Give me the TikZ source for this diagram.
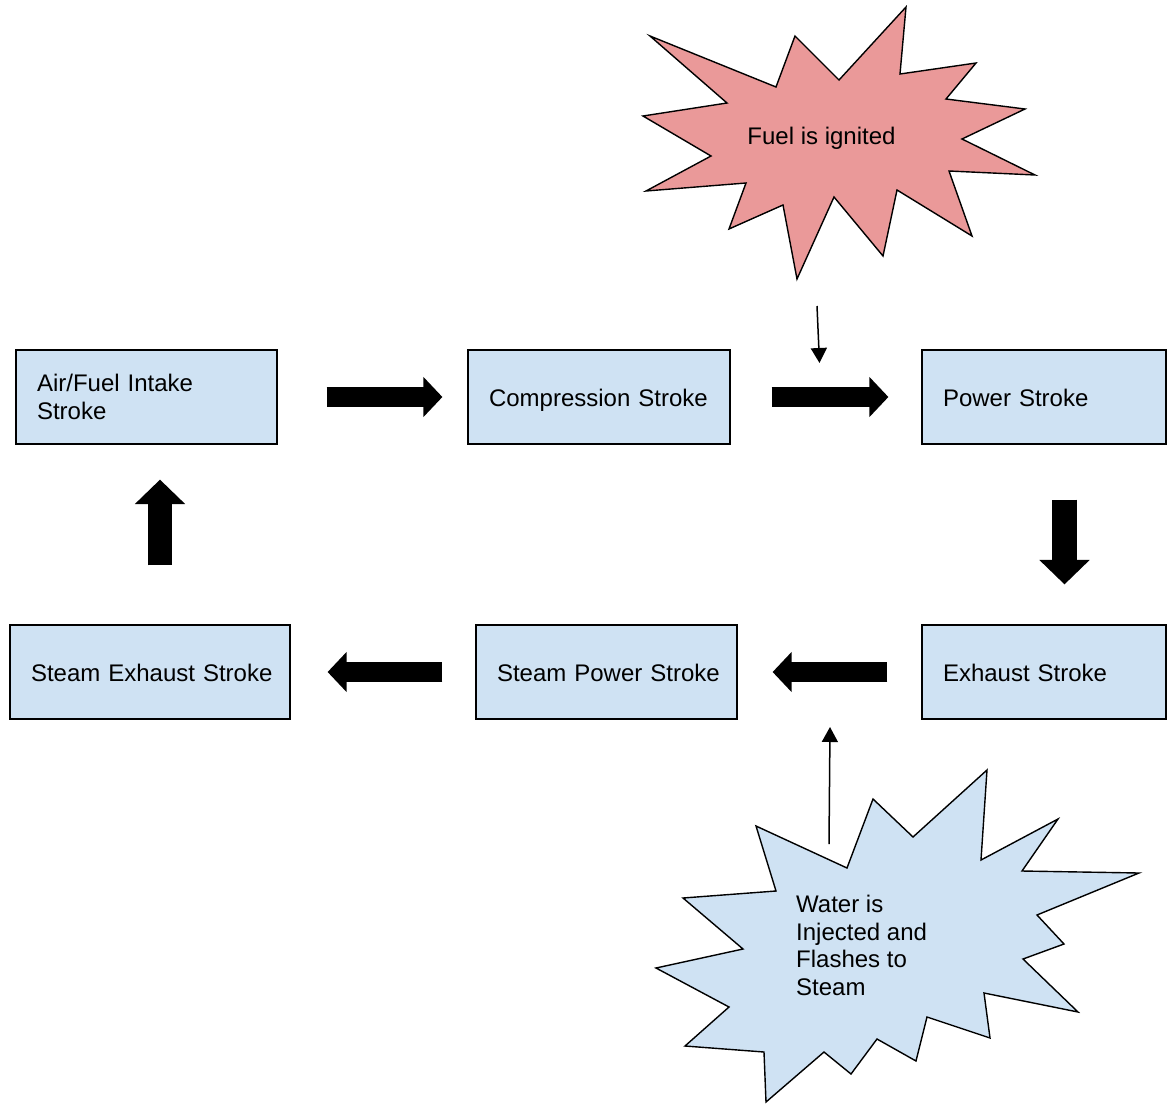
\documentclass[tikz,border=0pt]{standalone}
\usepackage{fontspec}
\setmainfont{Liberation Sans}
\usetikzlibrary{arrows.meta,calc}
\definecolor{boxblue}{HTML}{CFE2F3}
\definecolor{burstred}{HTML}{EA9999}
\begin{document}
\begin{tikzpicture}[x=1pt,y=-1pt,
  stroke/.style={draw=black, line width=1.2pt, fill=boxblue, rectangle,
    minimum height=94pt, inner xsep=21pt, inner ysep=0pt, align=left,
    font=\fontsize{24}{27.7}\selectfont},
  oneline/.style={text height=22pt, text depth=4pt},
  burst/.style={draw=black, line width=1.4pt, line join=miter},
  harrow/.style={line width=20pt, -{Triangle[length=19pt,width=39pt]}},
  varrow/.style={line width=24.5pt, -{Triangle[length=24.5pt,width=49pt]}},
  thinarrow/.style={line width=1.5pt, -{Triangle[length=15pt,width=16pt]}},
  bursttext/.style={font=\fontsize{24}{27.5}\selectfont, inner sep=0pt, align=left}
]
\useasboundingbox (0,0) rectangle (1167,1103);

% process boxes
\node[stroke, text width=219pt] (intake) at (146.5,397) {Air/Fuel Intake\\Stroke};
\node[stroke, oneline, text width=220pt] (comp) at (599,397) {\mbox{Compression Stroke}};
\node[stroke, oneline, text width=202pt] (power) at (1044,397) {\mbox{Power Stroke}};
\node[stroke, oneline, text width=238pt] (sexhaust) at (150,672) {\mbox{Steam Exhaust Stroke}};
\node[stroke, oneline, text width=219pt] (spower) at (606.5,672) {\mbox{Steam Power Stroke}};
\node[stroke, oneline, text width=202pt] (exhaust) at (1044,672) {\mbox{Exhaust Stroke}};

% block arrows
\draw[harrow] ($(intake.east)+(49,0)$) -- ($(comp.west)+(-25,0)$);
\draw[harrow] ($(comp.east)+(41,0)$) -- ($(power.west)+(-33,0)$);
\draw[varrow] ($(power.south)+(20.5,55)$) -- ($(exhaust.north)+(20.5,-40)$);
\draw[harrow] ($(exhaust.west)+(-34,0)$) -- ($(spower.east)+(35,0)$);
\draw[harrow] ($(spower.west)+(-33,0)$) -- ($(sexhaust.east)+(37,0)$);
\draw[varrow] ($(sexhaust.north)+(10,-59)$) -- ($(intake.south)+(13.5,35)$);

% fuel starburst
\draw[burst, fill=burstred] (650,36) -- (776,87) -- (795,36) -- (839,80) -- (906,7)
  -- (900,74) -- (976,63) -- (946,99) -- (1025,109) -- (962,139) -- (1035,175)
  -- (949,171) -- (972,236) -- (897,190) -- (883,256) -- (834,197) -- (797,279)
  -- (783,205) -- (729,229) -- (746,183) -- (646,191) -- (711,156) -- (643,116)
  -- (727,103) -- cycle;
\node[bursttext, anchor=base] (fuel) at (821.5,144.5) {Fuel is ignited};

% water starburst
\draw[burst, fill=boxblue] (756,826) -- (847,868) -- (873,799) -- (913,837) -- (987,770)
  -- (981,860) -- (1058,819) -- (1022,871) -- (1139,873) -- (1037,915) -- (1064,944)
  -- (1023,959) -- (1078,1012) -- (984,993) -- (990,1038) -- (927,1017) -- (916,1061)
  -- (877,1039) -- (851,1074) -- (824,1052) -- (766,1102) -- (764,1052) -- (685,1046)
  -- (729,1007) -- (656,968) -- (743,949) -- (683,898) -- (776,891) -- cycle;
\node[bursttext, anchor=north west] (water) at (796,895) {Water is\\Injected and\\Flashes to\\Steam};

% thin arrows
\coordinate (fueltail) at (817,306);
\coordinate (fueltip) at (819.5,363);
\draw[thinarrow] (fueltail) -- (fueltip);
\coordinate (watertail) at (829,844);
\coordinate (watertip) at (830,727);
\draw[thinarrow] (watertail) -- (watertip);
\end{tikzpicture}
\end{document}
